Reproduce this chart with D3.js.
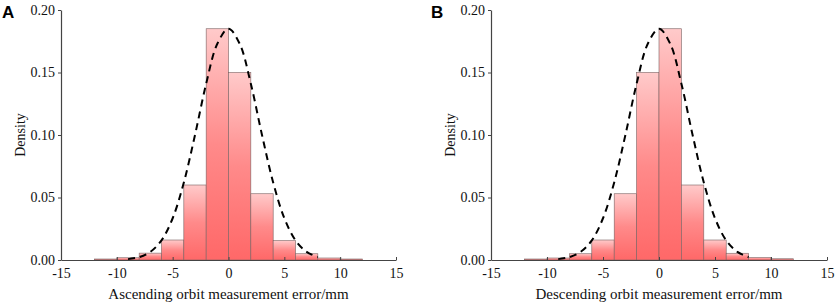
<!DOCTYPE html>
<html>
<head>
<meta charset="utf-8">
<script src="https://cdn.jsdelivr.net/npm/d3@7"></script>
<style>
  html, body { margin: 0; padding: 0; background: #fff; }
  svg { display: block; }
</style>
</head>
<body>
<svg id="chart" width="837" height="304"></svg>
<script>
// ---- data ----
const binStarts = [-12, -10, -8, -6, -4, -2, 0, 2, 4, 6, 8, 10];
const binWidth = 2;
const densityA = [0.0008, 0.0018, 0.0055, 0.016, 0.060, 0.185, 0.150, 0.053, 0.0155, 0.005, 0.0016, 0.0008];
const densityB = [0.0008, 0.0016, 0.005, 0.016, 0.053, 0.150, 0.185, 0.060, 0.016, 0.0054, 0.002, 0.001];
const curveX = [-9, -8, -7, -6, -5, -4, -3, -2, -1, 0, 1, 2, 3, 4, 5, 6, 7, 8];
const curveA = [0.0007, 0.0023, 0.0065, 0.0157, 0.0334, 0.062, 0.100, 0.141, 0.173, 0.185, 0.173, 0.141, 0.100, 0.062, 0.0334, 0.0157, 0.0065, 0.0023];
const curveB = [0.0007, 0.0023, 0.0065, 0.0157, 0.0334, 0.062, 0.100, 0.141, 0.173, 0.185, 0.173, 0.141, 0.100, 0.062, 0.0334, 0.0157, 0.0065, 0.0023];
const xTicks = [-15, -10, -5, 0, 5, 10, 15];
const yTicks = [0.00, 0.05, 0.10, 0.15, 0.20];

const panels = [
  { letter: "A", values: densityA, curve: curveA, title: "Ascending orbit measurement error/mm", x0: 61, x1: 396, letterX: 2 },
  { letter: "B", values: densityB, curve: curveB, title: "Descending orbit measurement error/mm", x0: 491, x1: 827, letterX: 431 }
];

const svg = d3.select("#chart");
const defs = svg.append("defs");
const grad = defs.append("linearGradient").attr("id", "barGrad")
  .attr("x1", 0).attr("y1", 0).attr("x2", 0).attr("y2", 1);
grad.append("stop").attr("offset", "0%").attr("stop-color", "#ffcaca");
grad.append("stop").attr("offset", "50%").attr("stop-color", "#ff8a8a");
grad.append("stop").attr("offset", "100%").attr("stop-color", "#ff6868");

const serif = "'Liberation Serif', 'Times New Roman', serif";
const yTop = 10, yBot = 260;

panels.forEach(p => {
  const x = d3.scaleLinear().domain([-15, 15]).range([p.x0, p.x1]);
  const y = d3.scaleLinear().domain([0, 0.2]).range([yBot, yTop]);
  const g = svg.append("g");

  // bars
  g.selectAll("rect.bar").data(binStarts.map((s, i) => ({ s, v: p.values[i] })))
    .enter().append("rect")
    .attr("class", "bar")
    .attr("x", d => x(d.s))
    .attr("width", d => x(d.s + binWidth) - x(d.s))
    .attr("y", d => y(d.v))
    .attr("height", d => yBot - y(d.v))
    .attr("fill", "url(#barGrad)")
    .attr("stroke", "#7a6262")
    .attr("stroke-width", 0.6);

  // fitted curve
  const line = d3.line()
    .x((d, i) => x(curveX[i]))
    .y(d => y(d))
    .curve(d3.curveCatmullRom);
  g.append("path")
    .attr("d", line(p.curve))
    .attr("fill", "none")
    .attr("stroke", "#000")
    .attr("stroke-width", 2)
    .attr("stroke-dasharray", "7,5");

  // x axis
  const xAxis = d3.axisBottom(x).tickValues(xTicks).tickSizeInner(-3).tickSizeOuter(0)
    .tickPadding(8).tickFormat(d3.format("d"));
  const gx = g.append("g").attr("transform", `translate(0,${yBot})`).call(xAxis);
  gx.select(".domain").attr("stroke", "#444").attr("stroke-width", 1.2);
  gx.selectAll(".tick line").attr("stroke", "#444");
  gx.selectAll("text").attr("font-family", serif).attr("font-size", 14).attr("fill", "#111")
    .text(d => d < 0 ? "-" + Math.abs(d) : d);

  // y axis
  const yAxis = d3.axisLeft(y).tickValues(yTicks).tickSizeInner(3).tickSizeOuter(0)
    .tickPadding(3).tickFormat(d3.format(".2f"));
  const gy = g.append("g").attr("transform", `translate(${p.x0},0)`).call(yAxis);
  gy.select(".domain").attr("stroke", "#444").attr("stroke-width", 1.2);
  gy.selectAll(".tick line").attr("stroke", "#444");
  gy.selectAll("text").attr("font-family", serif).attr("font-size", 14).attr("fill", "#111");

  // axis titles
  g.append("text")
    .attr("x", (p.x0 + p.x1) / 2)
    .attr("y", 299)
    .attr("text-anchor", "middle")
    .attr("font-family", serif).attr("font-size", 15).attr("fill", "#111")
    .text(p.title);
  g.append("text")
    .attr("transform", `translate(${p.x0 - 36},${135}) rotate(-90)`)
    .attr("text-anchor", "middle")
    .attr("font-family", serif).attr("font-size", 14).attr("fill", "#111")
    .text("Density");

  // panel letter
  g.append("text")
    .attr("x", p.letterX).attr("y", 18)
    .attr("font-family", "'Liberation Sans', Arial, sans-serif")
    .attr("font-weight", "bold").attr("font-size", 17).attr("fill", "#000")
    .text(p.letter);
});
</script>
</body>
</html>
